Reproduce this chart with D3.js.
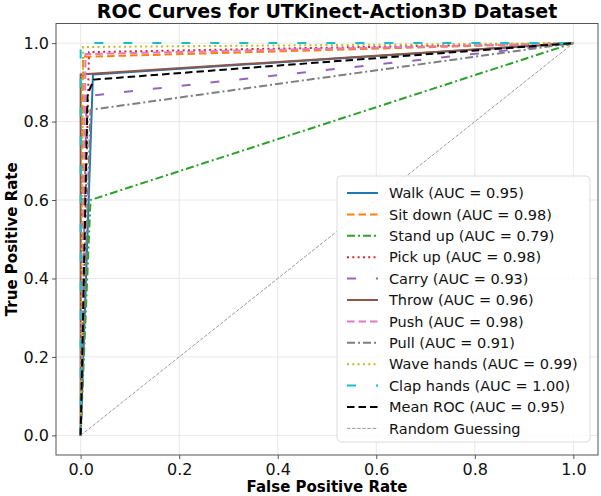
<!DOCTYPE html>
<html>
<head>
<meta charset="utf-8">
<script src="https://cdn.jsdelivr.net/npm/d3@7"></script>
<style>
  body { margin: 0; background: #fff; }
  text { font-family: "DejaVu Sans", sans-serif; }
</style>
</head>
<body>
<script>
// chart size
var width = 601;
var height = 496;
var margin = {left: 56, right: 3, top: 23.5, bottom: 41};

// data: each curve is (0,0) -> operating point(s) -> (1,1)
var classes = ["Walk", "Sit down", "Stand up", "Pick up", "Carry", "Throw",
               "Push", "Pull", "Wave hands", "Clap hands"];
var aucs = ["0.95", "0.98", "0.79", "0.98", "0.93", "0.96", "0.98", "0.91", "0.99", "1.00"];
var fprs = [[0, 0.025, 1], [0, 0.005, 1], [0, 0.02, 1], [0, 0.017, 1], [0, 0.012, 1],
            [0, 0.0, 1], [0, 0.01, 1], [0, 0.02, 1], [0, 0.005, 1], [0, 0.0, 1]];
var tprs = [[0, 0.92, 1], [0, 0.965, 1], [0, 0.6, 1], [0, 0.977, 1], [0, 0.865, 1],
            [0, 0.92, 1], [0, 0.972, 1], [0, 0.83, 1], [0, 0.99, 1], [0, 1.0, 1]];
var meanFpr = [0, 0.014, 0.027, 1];
var meanTpr = [0, 0.87, 0.907, 1];
var meanAuc = "0.95";
var xTicks = [0, 0.2, 0.4, 0.6, 0.8, 1.0];
var yTicks = [0, 0.2, 0.4, 0.6, 0.8, 1.0];

// styles
var colors = ["#1f77b4", "#ff7f0e", "#2ca02c", "#d62728", "#9467bd",
              "#8c564b", "#e377c2", "#7f7f7f", "#bcbd22", "#17becf"];
var dashes = [null, "7.5,4", "8,3,2,3", "2,3.3", "9,20",
              null, "7.5,4", "8,3,2,3", "2,3.3", "9,20"];

var svg = d3.select("body").append("svg")
            .attr("width", width)
            .attr("height", height);

var x = d3.scaleLinear().domain([-0.05, 1.05]).range([margin.left, width - margin.right]);
var y = d3.scaleLinear().domain([-0.05, 1.05]).range([height - margin.bottom, margin.top]);

// grid
svg.append("g").selectAll("line").data(xTicks).enter().append("line")
   .attr("x1", function(d) { return x(d); }).attr("x2", function(d) { return x(d); })
   .attr("y1", y(-0.05)).attr("y2", y(1.05))
   .attr("stroke", "#e2e2e2").attr("stroke-width", 0.8);
svg.append("g").selectAll("line").data(yTicks).enter().append("line")
   .attr("y1", function(d) { return y(d); }).attr("y2", function(d) { return y(d); })
   .attr("x1", x(-0.05)).attr("x2", x(1.05))
   .attr("stroke", "#e2e2e2").attr("stroke-width", 0.8);

var line = d3.line()
             .x(function(d) { return x(d[0]); })
             .y(function(d) { return y(d[1]); });

// class curves
for (var i = 0; i < classes.length; i++) {
  var pts = fprs[i].map(function(f, j) { return [f, tprs[i][j]]; });
  svg.append("path")
     .attr("d", line(pts))
     .attr("fill", "none")
     .attr("stroke", colors[i])
     .attr("stroke-width", 2)
     .attr("stroke-dasharray", dashes[i]);
}

// mean ROC
svg.append("path")
   .attr("d", line(meanFpr.map(function(f, j) { return [f, meanTpr[j]]; })))
   .attr("fill", "none").attr("stroke", "#000").attr("stroke-width", 2)
   .attr("stroke-dasharray", "7.5,4");

// random guessing
svg.append("path")
   .attr("d", line([[0, 0], [1, 1]]))
   .attr("fill", "none").attr("stroke", "#999").attr("stroke-width", 1)
   .attr("stroke-dasharray", "3.5,1.6");

// axes
var xAxis = svg.append("g")
   .attr("transform", "translate(0," + (height - margin.bottom) + ")")
   .call(d3.axisBottom(x).tickValues(xTicks).tickFormat(d3.format(".1f")).tickSizeOuter(0).tickSize(4));
var yAxis = svg.append("g")
   .attr("transform", "translate(" + margin.left + ",0)")
   .call(d3.axisLeft(y).tickValues(yTicks).tickFormat(d3.format(".1f")).tickSizeOuter(0).tickSize(4));
[xAxis, yAxis].forEach(function(a) {
  a.select(".domain").remove();
  a.selectAll("line").attr("stroke", "#555");
  a.selectAll("text").attr("font-size", 16).attr("fill", "#111")
   .style("font-family", "DejaVu Sans");
});
xAxis.selectAll("text").attr("y", 20).attr("dy", 0);
yAxis.selectAll("text").attr("x", -7);

// frame
svg.append("rect")
   .attr("x", x(-0.05)).attr("y", y(1.05))
   .attr("width", x(1.05) - x(-0.05)).attr("height", y(-0.05) - y(1.05))
   .attr("fill", "none").attr("stroke", "#555").attr("stroke-width", 1);

// titles
svg.append("text").attr("x", (x(-0.05) + x(1.05)) / 2).attr("y", 18)
   .attr("text-anchor", "middle").attr("font-size", 19).attr("font-weight", "bold")
   .text("ROC Curves for UTKinect-Action3D Dataset");
svg.append("text").attr("x", (x(-0.05) + x(1.05)) / 2).attr("y", 492)
   .attr("text-anchor", "middle").attr("font-size", 15).attr("font-weight", "bold")
   .text("False Positive Rate");
svg.append("text").attr("transform", "translate(17," + ((y(-0.05) + y(1.05)) / 2) + ") rotate(-90)")
   .attr("text-anchor", "middle").attr("font-size", 15).attr("font-weight", "bold")
   .text("True Positive Rate");

// legend
var legendItems = classes.map(function(c, i) {
  return {label: c + " (AUC = " + aucs[i] + ")", color: colors[i], dash: dashes[i], w: 2};
});
legendItems.push({label: "Mean ROC (AUC = " + meanAuc + ")", color: "#000", dash: "7.5,4", w: 2});
legendItems.push({label: "Random Guessing", color: "#999", dash: "3.5,1.6", w: 1});

var lg = {x: 337, y: 176, width: 253, height: 266, row: 21.4};
svg.append("rect")
   .attr("x", lg.x).attr("y", lg.y).attr("width", lg.width).attr("height", lg.height)
   .attr("rx", 4).attr("fill", "#fff").attr("fill-opacity", 0.85)
   .attr("stroke", "#ddd");

var item = svg.selectAll("g.legend").data(legendItems).enter().append("g")
              .attr("class", "legend")
              .attr("transform", function(d, i) { return "translate(" + lg.x + "," + (lg.y + 17 + i * lg.row) + ")"; });
item.append("line")
    .attr("x1", 10).attr("x2", 41).attr("y1", 0).attr("y2", 0)
    .attr("stroke", function(d) { return d.color; })
    .attr("stroke-width", function(d) { return d.w; })
    .attr("stroke-dasharray", function(d) { return d.dash; });
item.append("text")
    .attr("x", 52).attr("y", 0).attr("dy", "0.36em")
    .attr("font-size", 14.5).attr("fill", "#111")
    .text(function(d) { return d.label; });
</script>
</body>
</html>
